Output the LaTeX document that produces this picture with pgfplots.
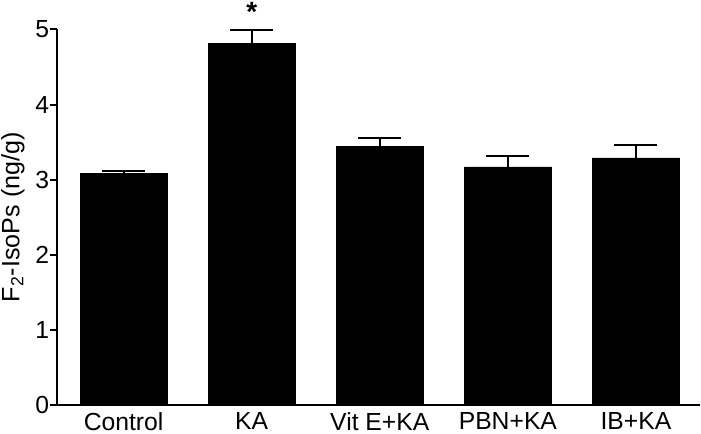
\documentclass[border=0pt]{standalone}
\usepackage{fontspec}
\setmainfont{Liberation Sans}
\usepackage{pgfplots}
\pgfplotsset{compat=1.18}
\usepackage{pgfplotstable}

\pgfplotstableread{
x  y     err
0  3.08  0.04
1  4.81  0.18
2  3.44  0.11
3  3.17  0.14
4  3.29  0.17
}\isops

\begin{document}
\fontsize{12.4}{14}\selectfont
\begin{tikzpicture}
\useasboundingbox (-28.5bp,-14.5bp) rectangle (322bp,202.5bp);
\begin{axis}[
  at={(0,0)}, anchor=south west,
  scale only axis,
  width=321.5bp, height=187.75bp,
  clip=false,
  axis lines*=left,
  axis line style={-, line width=1bp},
  xmin=-0.52, xmax=4.5,
  ymin=0, ymax=5,
  xtick={0,...,4},
  xticklabels={Control,KA,Vit E+KA,PBN+KA,IB+KA},
  x tick style={draw=none},
  ytick={0,...,5},
  y tick style={line width=1bp, black},
  tick align=outside,
  major tick length=3.5bp,
  /pgf/number format/assume math mode=true,
  ticklabel style={font=\fontsize{12.4}{14}\selectfont},
  yticklabel style={inner sep=0.2bp},
  xticklabel style={inner sep=0pt},
  ylabel={F\textsubscript{2}-IsoPs (ng/g)},
  ylabel style={at={(axis description cs:-0.0498,0.5)}, anchor=south, inner sep=0pt, font=\fontsize{12.6}{14}\selectfont},
]
\addplot[ybar, bar width=43.5bp, fill=black, draw=black,
  error bars/.cd, y dir=plus, y explicit,
  error bar style={line width=1bp, black},
  error mark options={line width=1bp, black, mark size=10.75bp, rotate=90}]
  table[x=x, y=y, y error=err] {\isops};
\node[anchor=base, font=\fontsize{14}{14}\selectfont\bfseries] at (axis cs:1,5.1) {*};
\end{axis}
\end{tikzpicture}
\end{document}
